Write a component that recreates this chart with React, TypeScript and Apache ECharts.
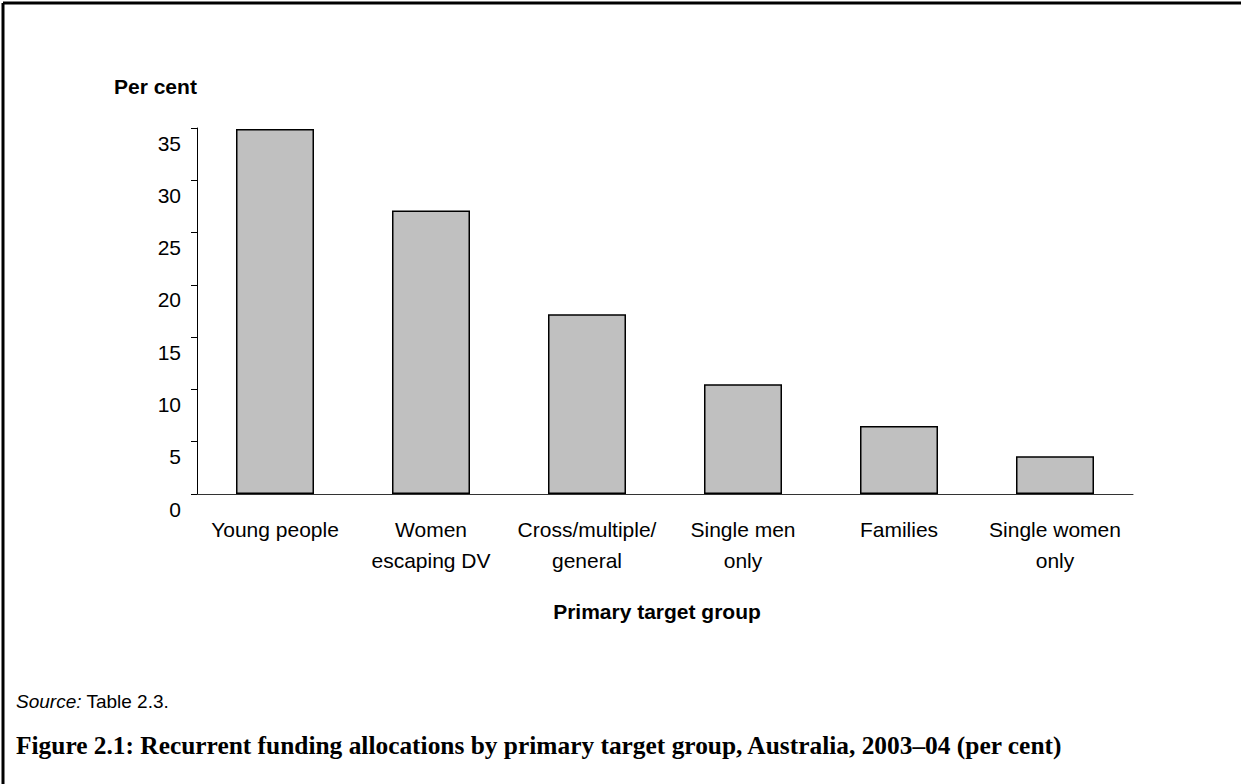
import React, { useEffect, useRef } from "react";
import * as echarts from "echarts";

const categories: string[] = [
  "Young people",
  "Women\nescaping DV",
  "Cross/multiple/\ngeneral",
  "Single men\nonly",
  "Families",
  "Single women\nonly",
];
const values: number[] = [34.9, 27.1, 17.2, 10.5, 6.5, 3.6];
const yTicks = { min: 0, max: 35, interval: 5 };

const yAxisTitle = "Per cent";
const xAxisTitle = "Primary target group";
const sourceLabel = "Source:";
const sourceText = " Table 2.3.";
const caption =
  "Figure 2.1: Recurrent funding allocations by primary target group, Australia, 2003\u201304 (per cent)";

const SANS = "'Liberation Sans', Arial, sans-serif";
const SERIF = "'Liberation Serif', 'Times New Roman', serif";

export default function App() {
  const ref = useRef<HTMLDivElement>(null);
  useEffect(() => {
    if (!ref.current) return;
    const chart = echarts.init(ref.current, null, { renderer: "svg" });
    chart.setOption({
      animation: false,
      backgroundColor: "#ffffff",
      grid: { left: 197, right: 108, top: 128, bottom: 290, containLabel: false },
      xAxis: {
        type: "category",
        data: categories,
        axisLine: { show: true, lineStyle: { color: "#333333", width: 1 } },
        axisTick: { show: false },
        axisLabel: {
          interval: 0,
          color: "#000",
          fontFamily: SANS,
          fontSize: 21,
          lineHeight: 31,
          margin: 20,
        },
      },
      yAxis: {
        type: "value",
        min: yTicks.min,
        max: yTicks.max,
        interval: yTicks.interval,
        splitLine: { show: false },
        axisLine: { show: true, lineStyle: { color: "#000", width: 1 } },
        axisTick: { show: true, inside: false, length: 6, lineStyle: { color: "#000", width: 1 } },
        axisLabel: {
          color: "#000",
          fontFamily: SANS,
          fontSize: 21,
          lineHeight: 30,
          verticalAlign: "top",
          margin: 16,
        },
      },
      series: [
        {
          type: "bar",
          data: values,
          barWidth: "50%",
          itemStyle: { color: "#c0c0c0", borderColor: "#000", borderWidth: 1.5 },
        },
      ],
      graphic: [
        {
          type: "line",
          shape: { x1: 3, y1: 3, x2: 1241, y2: 3 },
          style: { stroke: "#000", lineWidth: 3 },
        },
        {
          type: "line",
          shape: { x1: 3, y1: 3, x2: 3, y2: 784 },
          style: { stroke: "#000", lineWidth: 3 },
        },
        {
          type: "text",
          x: 114,
          y: 86,
          style: {
            text: yAxisTitle,
            font: `bold 21px ${SANS}`,
            fill: "#000",
            textAlign: "left",
            textVerticalAlign: "middle",
          },
        },
        {
          type: "text",
          x: 657,
          y: 611,
          style: {
            text: xAxisTitle,
            font: `bold 21px ${SANS}`,
            fill: "#000",
            textAlign: "center",
            textVerticalAlign: "middle",
          },
        },
        {
          type: "text",
          x: 16,
          y: 701,
          style: {
            text: `{i|${sourceLabel}}{n|${sourceText}}`,
            rich: {
              i: { fontFamily: SANS, fontSize: 19, fontStyle: "italic", fill: "#000" },
              n: { fontFamily: SANS, fontSize: 19, fill: "#000" },
            },
            textAlign: "left",
            textVerticalAlign: "middle",
          },
        },
        {
          type: "text",
          x: 16,
          y: 745,
          style: {
            text: caption,
            font: `bold 25.4px ${SERIF}`,
            fill: "#000",
            textAlign: "left",
            textVerticalAlign: "middle",
          },
        },
      ],
    });
    return () => chart.dispose();
  }, []);
  return (
    <div
      ref={ref}
      style={{ position: "absolute", left: 0, top: 0, width: 1241, height: 784, background: "#fff" }}
    />
  );
}
